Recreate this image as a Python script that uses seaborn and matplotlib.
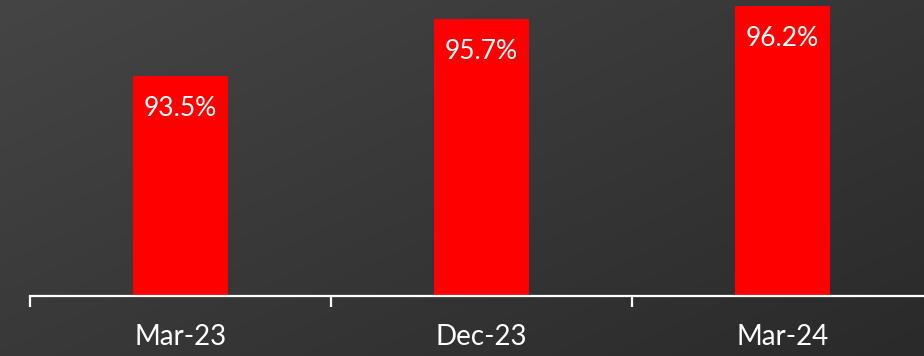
import numpy as np
import pandas as pd
import matplotlib
matplotlib.use("Agg")
import matplotlib.pyplot as plt
import seaborn as sns

periods = ["Mar-23", "Dec-23", "Mar-24"]
values = [93.5, 95.7, 96.2]
value_labels = ["93.5%", "95.7%", "96.2%"]

BAR_COLOR = "#ff0000"
TEXT_COLOR = "white"

sns.set_style("white")
plt.rcParams["font.family"] = ["Lato", "DejaVu Sans"]

df = pd.DataFrame({"period": periods, "value": values})

fig = plt.figure(figsize=(9.24, 3.56), dpi=100)

# diagonal dark gradient background
bg = fig.add_axes([0, 0, 1, 1], zorder=0)
yy, xx = np.mgrid[0:1:200j, 0:1:400j]
grad = 0.55 * xx + 0.45 * yy
bg.imshow(grad, cmap=matplotlib.colors.LinearSegmentedColormap.from_list(
    "bg", ["#454545", "#2a2a2a"]), aspect="auto", extent=[0, 1, 0, 1], origin="upper")
bg.axis("off")

ax = fig.add_axes([30 / 924, 60 / 356, 903 / 924, 296 / 356], zorder=1)
ax.patch.set_alpha(0)
sns.barplot(data=df, x="period", y="value", color=BAR_COLOR, width=0.315,
            saturation=1, linewidth=0, ax=ax)
ax.set_ylim(85, 96.44)
ax.set_xlim(-0.5, 2.5)

for i, (v, lab) in enumerate(zip(values, value_labels)):
    ax.annotate(lab, (i, v), xytext=(0, -14), textcoords="offset points",
                ha="center", va="top", color=TEXT_COLOR, fontsize=19)

sns.despine(ax=ax, left=True, top=True, right=True)
ax.spines["bottom"].set_color(TEXT_COLOR)
ax.spines["bottom"].set_linewidth(1.6)
ax.set_yticks([])
ax.set_xticks(range(len(periods)))
ax.set_xticklabels(periods, color=TEXT_COLOR, fontsize=20)
ax.tick_params(axis="x", which="major", length=0, pad=20)
ax.set_xticks([-0.5, 0.5, 1.5, 2.5], minor=True)
ax.tick_params(axis="x", which="minor", bottom=True, direction="out",
               length=8, width=1.6, color=TEXT_COLOR)
ax.set_xlabel("")
ax.set_ylabel("")

fig.savefig("out.png", dpi=100)
